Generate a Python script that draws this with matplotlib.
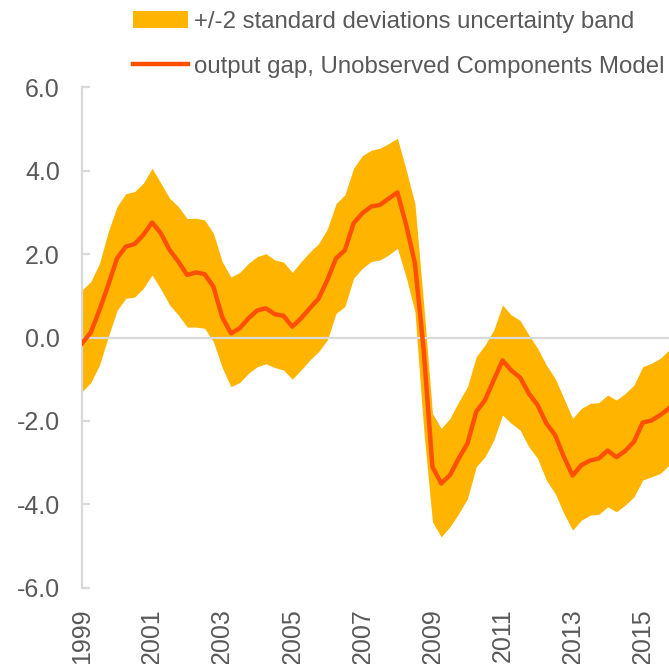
import numpy as np
import matplotlib
matplotlib.use("Agg")
import matplotlib.pyplot as plt
from matplotlib.patches import Patch
from matplotlib.lines import Line2D

# quarterly values, 1999Q1 - 2015Q4
gap = [-0.14, 0.12, 0.66, 1.26, 1.90, 2.18, 2.24, 2.46, 2.76, 2.50,
       2.10, 1.82, 1.50, 1.56, 1.52, 1.22, 0.49, 0.10, 0.22, 0.46,
       0.65, 0.70, 0.56, 0.52, 0.26, 0.46, 0.70, 0.93, 1.38, 1.90,
       2.09, 2.74, 2.98, 3.14, 3.18, 3.33, 3.48, 2.70, 1.78, -0.30,
       -3.10, -3.50, -3.30, -2.90, -2.54, -1.78, -1.50, -1.02, -0.55, -0.79,
       -0.96, -1.34, -1.62, -2.06, -2.34, -2.86, -3.31, -3.06, -2.95, -2.90,
       -2.71, -2.87, -2.72, -2.50, -2.04, -1.99, -1.86, -1.70]
upper = [1.14, 1.34, 1.78, 2.54, 3.14, 3.45, 3.50, 3.70, 4.06, 3.70,
         3.34, 3.14, 2.85, 2.86, 2.82, 2.50, 1.82, 1.45, 1.56, 1.78,
         1.94, 2.01, 1.86, 1.81, 1.56, 1.82, 2.05, 2.25, 2.60, 3.21,
         3.42, 4.06, 4.36, 4.49, 4.54, 4.65, 4.78, 4.02, 3.21, 0.80,
         -1.82, -2.18, -1.94, -1.54, -1.18, -0.46, -0.18, 0.18, 0.78, 0.54,
         0.41, 0.06, -0.26, -0.66, -0.98, -1.46, -1.94, -1.70, -1.58, -1.56,
         -1.38, -1.50, -1.34, -1.14, -0.70, -0.62, -0.50, -0.30]
lower = [-1.30, -1.08, -0.66, 0.02, 0.65, 0.94, 0.97, 1.18, 1.50, 1.16,
         0.78, 0.54, 0.25, 0.25, 0.22, -0.10, -0.72, -1.18, -1.08, -0.86,
         -0.70, -0.63, -0.72, -0.78, -1.00, -0.78, -0.54, -0.34, -0.06, 0.58,
         0.74, 1.42, 1.66, 1.82, 1.86, 1.98, 2.14, 1.45, 0.62, -2.20,
         -4.42, -4.78, -4.54, -4.22, -3.86, -3.10, -2.86, -2.46, -1.86, -2.06,
         -2.22, -2.62, -2.90, -3.42, -3.74, -4.22, -4.62, -4.38, -4.26, -4.24,
         -4.06, -4.18, -4.02, -3.82, -3.42, -3.34, -3.26, -3.06]
years = ["1999", "2001", "2003", "2005", "2007", "2009", "2011", "2013", "2015"]
yticks = [-6, -4, -2, 0, 2, 4, 6]

band_col = "#FFB400"
line_col = "#FF5000"
grey = "#D9D9D9"
txt = "#595959"

plt.rcParams["font.family"] = ["Liberation Sans", "DejaVu Sans"]
plt.rcParams["font.size"] = 18

fig = plt.figure(figsize=(6.69, 6.64), dpi=100)
ax = fig.add_axes([82 / 669, 1 - 587.7 / 664, 1 - 82 / 669, (587.7 - 87.3) / 664])

x = np.arange(len(gap))
ax.fill_between(x, lower, upper, color=band_col, lw=0, zorder=1)
ax.axhline(0, color=grey, lw=1.6, zorder=2)
ax.plot(x, gap, color=line_col, lw=3.2, zorder=3)

ax.set_xlim(0, len(gap) - 1)
ax.set_ylim(-6, 6)
ax.set_yticks(yticks)
ax.set_yticklabels([f"{v:.1f}" for v in yticks], color=txt)
ax.set_xticks(np.arange(0, len(gap), 8))
ax.set_xticklabels(years, rotation=90, color=txt)
ax.tick_params(axis="y", direction="in", length=6, width=1.6, color=grey, pad=16)
ax.tick_params(axis="x", length=0, pad=15)

for s in ["top", "right", "bottom"]:
    ax.spines[s].set_visible(False)
ax.spines["left"].set_color(grey)
ax.spines["left"].set_linewidth(1.6)

handles = [Patch(facecolor=band_col, edgecolor="none"),
           Line2D([], [], color=line_col, lw=3.2)]
labels = ["+/-2 standard deviations uncertainty band",
          "output gap, Unobserved Components Model"]
fig.legend(handles, labels, loc="upper left", bbox_to_anchor=(133 / 669, 1 - 11 / 664),
           frameon=False, borderpad=0, borderaxespad=0, handlelength=2.3,
           handletextpad=0.25, labelspacing=0.95, labelcolor=txt, fontsize=17.3)

fig.savefig("out.png", dpi=100)
